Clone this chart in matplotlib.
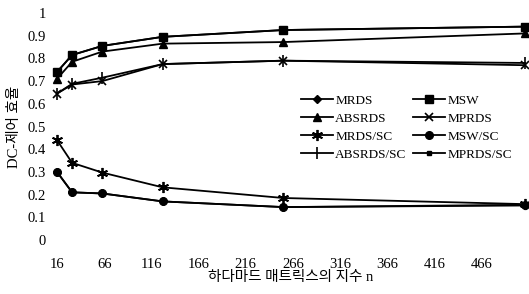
import matplotlib.pyplot as plt

plt.rcParams['font.family'] = ['Liberation Serif', 'Noto Sans CJK KR']

n_values = [16, 32, 64, 128, 256, 512]
x_ticks = [16, 66, 116, 166, 216, 266, 316, 366, 416, 466]
y_ticks = [0, 0.1, 0.2, 0.3, 0.4, 0.5, 0.6, 0.7, 0.8, 0.9, 1]
y_tick_labels = ['0', '0.1', '0.2', '0.3', '0.4', '0.5', '0.6', '0.7', '0.8', '0.9', '1']

mrds = [0.30, 0.21, 0.205, 0.17, 0.145, 0.155]
msw = [0.74, 0.815, 0.855, 0.895, 0.925, 0.94]
absrds = [0.71, 0.785, 0.83, 0.865, 0.872, 0.91]
mprds = [0.645, 0.685, 0.70, 0.775, 0.79, 0.77]
mrds_sc = [0.44, 0.34, 0.297, 0.232, 0.185, 0.158]
msw_sc = [0.30, 0.21, 0.205, 0.17, 0.145, 0.152]
absrds_sc = [0.645, 0.688, 0.715, 0.775, 0.79, 0.78]
mprds_sc = [0.74, 0.815, 0.855, 0.895, 0.925, 0.94]

series = [
    ('MRDS', mrds, dict(marker='D', ms=4.5)),
    ('MSW', msw, dict(marker='s', ms=6)),
    ('ABSRDS', absrds, dict(marker='^', ms=6)),
    ('MPRDS', mprds, dict(marker='x', ms=6, mew=1.2)),
    ('MRDS/SC', mrds_sc, dict(marker=(6, 2, 0), ms=8, mew=1.3)),
    ('MSW/SC', msw_sc, dict(marker='o', ms=5.5)),
    ('ABSRDS/SC', absrds_sc, dict(marker='|', ms=8, mew=1.2)),
    ('MPRDS/SC', mprds_sc, dict(marker='s', ms=3.5)),
]

fig = plt.figure(figsize=(5.29, 2.94), dpi=100)
ax = fig.add_axes([57 / 529, 54 / 294, 468 / 529, 227 / 294])

lines = []
for name, vals, style in series:
    ln, = ax.plot(n_values, vals, color='black', lw=1.3, mfc='black', mec='black',
                  label=name, clip_on=False, **style)
    lines.append(ln)

ax.set_xlim(16, 512)
ax.set_ylim(0, 1)
ax.set_xticks(x_ticks)
ax.set_yticks(y_ticks)
ax.set_yticklabels(y_tick_labels)
ax.tick_params(length=0, labelsize=10.5)
ax.tick_params(axis='x', pad=13)
ax.tick_params(axis='y', pad=8)
for s in ax.spines.values():
    s.set_visible(False)

ax.set_xlabel('하다마드 매트릭스의 지수 n', fontsize=10.5, labelpad=0)
ax.set_ylabel('DC-제어 효율', fontsize=10.5, labelpad=5)

# legend is filled row by row in the original
order = [0, 2, 4, 6, 1, 3, 5, 7]
handles = [lines[i] for i in order]
ax.legend(handles, [h.get_label() for h in handles], ncol=2, frameon=False,
          fontsize=9.5, loc='upper left', bbox_to_anchor=(0.51, 0.665),
          handlelength=2.4, handletextpad=0.2, columnspacing=0.5,
          labelspacing=0.45, borderaxespad=0)

fig.savefig('out.png', dpi=100)
